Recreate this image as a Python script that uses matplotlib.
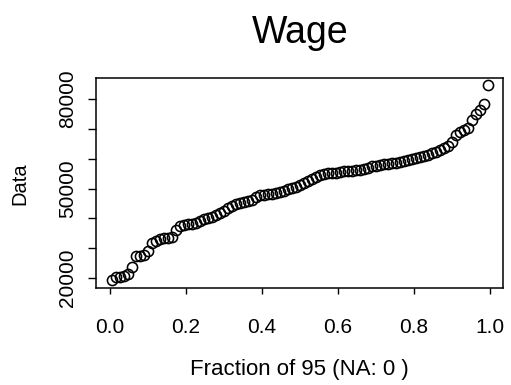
import numpy as np
import matplotlib
matplotlib.use("Agg")
import matplotlib.pyplot as plt

plt.rcParams['font.family'] = ['Liberation Sans', 'DejaVu Sans']

title = "Wage"
xlabel = "Fraction of 95 (NA: 0 )"
ylabel = "Data"

wage = [19330, 20335, 20440, 20670, 21510, 23690, 27375, 27540, 27710, 29050,
        31900, 32400, 33070, 33300, 33510, 33740, 36090, 37430, 37930, 38000,
        38100, 38600, 39100, 39680, 40010, 40450, 41120, 41790, 42460, 43300,
        44130, 44800, 45300, 45640, 45800, 46150, 47150, 47820, 47990, 48160,
        48320, 48490, 48830, 49330, 49830, 50170, 50500, 51010, 51680, 52350,
        53180, 54020, 54530, 54860, 55030, 55200, 55360, 55530, 55700, 55870,
        56030, 56200, 56370, 56700, 57040, 57380, 57540, 57880, 58210, 58380,
        58550, 58710, 58880, 59220, 59550, 59890, 60220, 60560, 60890, 61230,
        61900, 62400, 63070, 63580, 64080, 65590, 68100, 68940, 69610, 70280,
        72960, 74970, 76310, 78320, 84690]

xticks = [0.0, 0.2, 0.4, 0.6, 0.8, 1.0]
xticklabels = ["0.0", "0.2", "0.4", "0.6", "0.8", "1.0"]
yticks = [20000, 30000, 40000, 50000, 60000, 70000, 80000]
yticklabels = ["20000", "", "", "50000", "", "", "80000"]

n = len(wage)
frac = (np.arange(1, n + 1) - 0.5) / n
vals = np.sort(np.array(wage))

fig = plt.figure(figsize=(5.11, 3.85), dpi=100)
ax = fig.add_axes([96/511, 1 - 288/385, 407/511, 210/385])
ax.plot(frac, vals, linestyle='none', marker='o', markersize=7.3,
        markerfacecolor='none', markeredgecolor='black', markeredgewidth=1.15)

ax.set_xlim(-0.0368, 1.0342)
ax.set_ylim(16650, 87040)
ax.set_xticks(xticks)
ax.set_xticklabels(xticklabels)
ax.set_yticks(yticks)
ax.set_yticklabels(yticklabels, rotation=90, va='center')
ax.tick_params(axis='x', length=4.3, width=1.0, labelsize=15, pad=17)
ax.tick_params(axis='y', length=5.5, width=1.0, labelsize=15, pad=8)
for s in ax.spines.values():
    s.set_linewidth(1.1)

fig.text(300/511, 1 - 43/385, title, ha='center', va='baseline', fontsize=27)
fig.text(299/511, 1 - 370/385, xlabel, ha='center', va='center', fontsize=16)
fig.text(20/511, 1 - 184/385, ylabel, ha='center', va='center', fontsize=14.5, rotation=90)

fig.savefig("out.png", dpi=100)
